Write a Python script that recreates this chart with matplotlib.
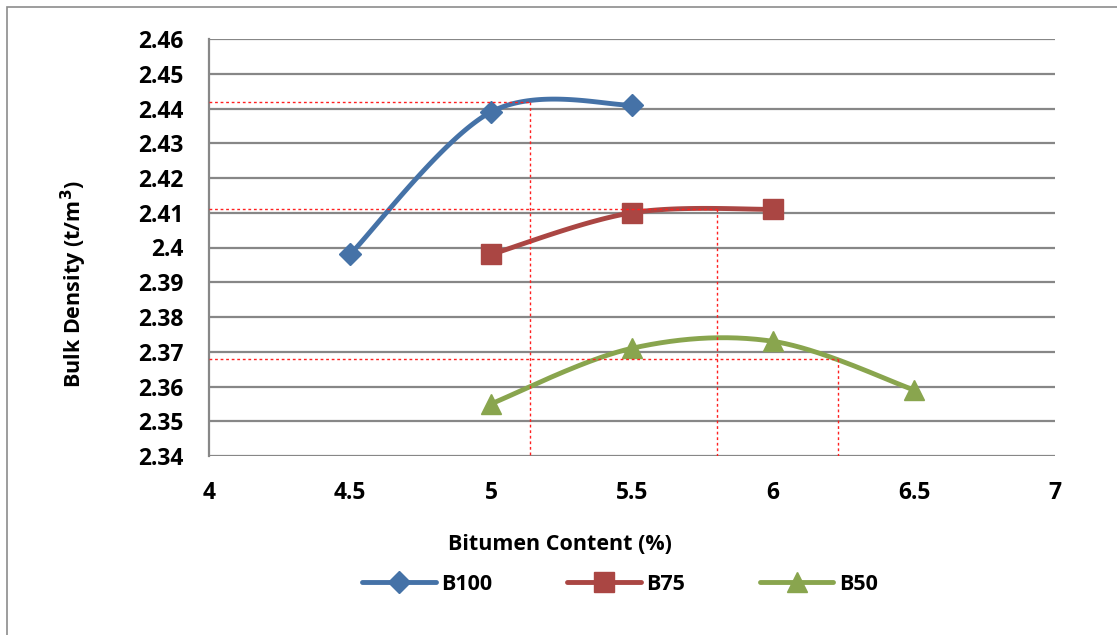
import numpy as np
import matplotlib
matplotlib.use("Agg")
import matplotlib.pyplot as plt
from matplotlib.lines import Line2D
from matplotlib.patches import Rectangle

plt.rcParams['font.family'] = ['Open Sans', 'DejaVu Sans']
plt.rcParams['font.weight'] = 'bold'

# Bulk density results per binder type
b100_x = [4.5, 5.0, 5.5]
b100_y = [2.398, 2.439, 2.441]
b75_x = [5.0, 5.5, 6.0]
b75_y = [2.398, 2.410, 2.411]
b50_x = [5.0, 5.5, 6.0, 6.5]
b50_y = [2.355, 2.371, 2.373, 2.359]

# Optimum read-off guides: (bitumen content, density)
guide_x = [5.14, 5.80, 6.23]
guide_y = [2.442, 2.411, 2.368]

x_ticks = [4, 4.5, 5, 5.5, 6, 6.5, 7]
x_tick_labels = ['4', '4.5', '5', '5.5', '6', '6.5', '7']
y_ticks = [2.34, 2.35, 2.36, 2.37, 2.38, 2.39, 2.40, 2.41, 2.42, 2.43, 2.44, 2.45, 2.46]
y_tick_labels = ['2.34', '2.35', '2.36', '2.37', '2.38', '2.39', '2.4', '2.41',
                 '2.42', '2.43', '2.44', '2.45', '2.46']

C_BLUE = '#4572A7'
C_RED = '#AA4643'
C_GREEN = '#89A54E'
C_GRID = '#878787'


def smooth(xs, ys, n=60):
    """Cardinal-spline smoothing through the points (spreadsheet style)."""
    p = np.column_stack([xs, ys]).astype(float)
    if len(p) < 3:
        return p[:, 0], p[:, 1]
    ext = np.vstack([p[0], p, p[-1]])
    out = []
    t = np.linspace(0, 1, n)[:, None]
    for i in range(1, len(ext) - 2):
        p0, p1, p2, p3 = ext[i - 1], ext[i], ext[i + 1], ext[i + 2]
        c1 = p1 + (p2 - p0) / 6.0
        c2 = p2 - (p3 - p1) / 6.0
        seg = ((1 - t) ** 3) * p1 + 3 * ((1 - t) ** 2) * t * c1 + 3 * (1 - t) * t ** 2 * c2 + t ** 3 * p2
        out.append(seg if i == 1 else seg[1:])
    out = np.vstack(out)
    return out[:, 0], out[:, 1]


W, H = 1117, 635
fig = plt.figure(figsize=(W / 100, H / 100), dpi=100)
fig.patch.set_facecolor('white')

# outer chart frame
fig.patches.append(Rectangle((6.5 / W, -0.05), 1.2, (H - 6.5) / H + 0.05,
                             transform=fig.transFigure, fill=False,
                             edgecolor='#8C8C8C', linewidth=1.2))

L, R, T, B = 209, 1055, 39, 456
ax = fig.add_axes([L / W, (H - B) / H, (R - L) / W, (B - T) / H])
ax.set_xlim(4, 7)
ax.set_ylim(2.34, 2.46)
ax.set_xticks(x_ticks)
ax.set_xticklabels(x_tick_labels, fontweight='bold')
ax.set_yticks(y_ticks)
ax.set_yticklabels(y_tick_labels, fontweight='bold')
ax.tick_params(length=0, labelsize=16.5, colors='black')
ax.tick_params(axis='x', pad=18)
ax.tick_params(axis='y', pad=18.5)
for s in ['top', 'right', 'bottom']:
    ax.spines[s].set_visible(False)
ax.spines['left'].set_color(C_GRID)
ax.spines['left'].set_linewidth(1.6)
ax.yaxis.grid(True, color=C_GRID, linewidth=1.6)
ax.set_axisbelow(True)

series = [
    (b100_x, b100_y, C_BLUE, 'D', 11.5, 'B100'),
    (b75_x, b75_y, C_RED, 's', 14, 'B75'),
    (b50_x, b50_y, C_GREEN, '^', 15, 'B50'),
]
handles = []
for xs, ys, col, mk, ms, lab in series:
    sx, sy = smooth(xs, ys)
    ax.plot(sx, sy, color=col, linewidth=3.5, solid_capstyle='round', zorder=3)
    ax.plot(xs, ys, linestyle='none', marker=mk, markersize=ms, color=col,
            markeredgecolor=col, zorder=4, clip_on=False)
    handles.append(Line2D([], [], color=col, linewidth=3.5, marker=mk,
                          markersize=ms, solid_capstyle='round', label=lab))

# dotted guides from the curves to the axes
for gx, gy in zip(guide_x, guide_y):
    ax.plot([4, gx], [gy, gy], color='#FF2020', linewidth=1.0,
            linestyle=(0, (2, 2)), zorder=5)
    ax.plot([gx, gx], [gy, 2.34], color='#FF2020', linewidth=1.0,
            linestyle=(0, (2, 2)), zorder=5)

fig.text(560 / W, 1 - 545 / H, 'Bitumen Content (%)', ha='center', va='center',
         fontsize=15.5, fontweight='bold')
fig.text(74 / W, 1 - 284 / H, 'Bulk Density (t/m$\\mathbf{^3}$)', ha='center', va='center',
         rotation=90, fontsize=15.5, fontweight='bold')

fig.legend(handles=handles, loc='center', bbox_to_anchor=(620 / W, 1 - 584 / H),
           ncol=3, frameon=False, fontsize=15.5, handlelength=3.4,
           columnspacing=3.5, handletextpad=0.25)

fig.savefig('out.png', dpi=100, facecolor='white')
